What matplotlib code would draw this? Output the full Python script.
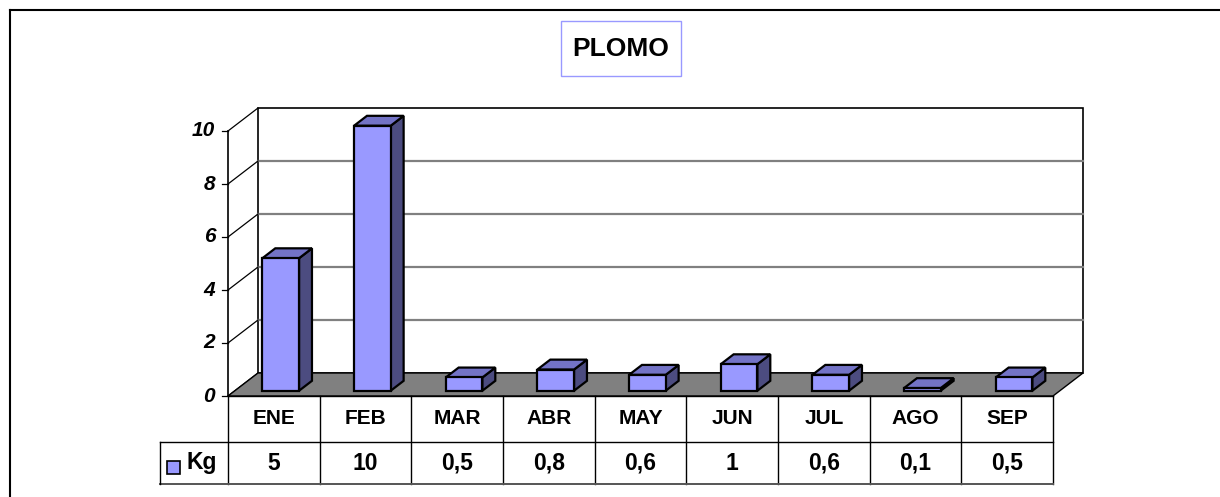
import matplotlib.pyplot as plt
from matplotlib.patches import Polygon, Rectangle
from matplotlib.lines import Line2D
from matplotlib.transforms import blended_transform_factory

# datos
meses = ['ENE', 'FEB', 'MAR', 'ABR', 'MAY', 'JUN', 'JUL', 'AGO', 'SEP']
kg = [5, 10, 0.5, 0.8, 0.6, 1, 0.6, 0.1, 0.5]
etiquetas = ['5', '10', '0,5', '0,8', '0,6', '1', '0,6', '0,1', '0,5']
serie = 'Kg'
titulo = 'PLOMO'
yticks = [0, 2, 4, 6, 8, 10]

plt.rcParams['font.family'] = ['Liberation Sans', 'DejaVu Sans']

W, H = 1220, 497
fig = plt.figure(figsize=(W / 100, H / 100), dpi=100)

def caja(x0, y0, x1, y1):
    # pixel box -> figure fraction [left, bottom, width, height]
    return [x0 / W, 1 - y1 / H, (x1 - x0) / W, (y1 - y0) / H]

def fy(ypx):
    return 1 - ypx / H

# front plane of the 3D chart
ax = fig.add_axes(caja(228, 131, 1053, 396))
n = len(meses)
ax.set_xlim(0, n)
ax.set_ylim(0, 10)
ax.axis('off')

# depth vector (data units) and bar placement in depth
DX, DY = 30 / (825 / n), 23 / 26.5
f0, f1 = 0.23, 0.66
ancho = 0.40

def P(x, y, f):
    return (x + f * DX, y + f * DY)

# back wall
ax.add_patch(Polygon([P(0, 0, 1), P(n, 0, 1), P(n, 10, 1), P(0, 10, 1)], closed=True,
                     facecolor='white', edgecolor='black', lw=1.2, clip_on=False, zorder=1))
for v in yticks[1:-1]:
    ax.add_line(Line2D(*zip(P(0, v, 1), P(n, v, 1)), color='#808080', lw=1.6, clip_on=False, zorder=1.5))

# left wall lines and ticks
for v in yticks:
    ax.add_line(Line2D(*zip(P(0, v, 0), P(0, v, 1)), color='black', lw=0.9, clip_on=False, zorder=2))
    ax.add_line(Line2D([-0.065, 0], [v, v], color='black', lw=0.9, clip_on=False, zorder=2))
    ax.text(-0.14, v, str(v), ha='right', va='center', fontsize=15, fontweight='bold',
            fontstyle='italic', clip_on=False)
ax.add_line(Line2D([0, 0], [0, 10], color='black', lw=1.2, clip_on=False, zorder=2))

# floor
ax.add_patch(Polygon([P(0, 0, 0), P(n, 0, 0), P(n, 0, 1), P(0, 0, 1)], closed=True,
                     facecolor='#808080', edgecolor='black', lw=1.0, clip_on=False, zorder=3))

# bars
for i, v in enumerate(kg):
    x0 = i + 0.5 - ancho / 2
    x1 = x0 + ancho
    frente = [P(x0, 0, f0), P(x1, 0, f0), P(x1, v, f0), P(x0, v, f0)]
    lado = [P(x1, 0, f0), P(x1, 0, f1), P(x1, v, f1), P(x1, v, f0)]
    techo = [P(x0, v, f0), P(x1, v, f0), P(x1, v, f1), P(x0, v, f1)]
    for pts, col in [(lado, '#4C4C80'), (techo, '#7373C6'), (frente, '#9999FF')]:
        ax.add_patch(Polygon(pts, closed=True, facecolor=col, edgecolor='black',
                             lw=1.6, joinstyle='miter', clip_on=False, zorder=4))

# data table
tr = blended_transform_factory(ax.transData, fig.transFigure)
y_a, y_b, y_c = fy(396), fy(442), fy(484)
x_izq = -68 / (825 / n)
for k in range(n + 1):
    fig.add_artist(Line2D([k, k], [y_a, y_c], color='black', lw=1.0, transform=tr))
fig.add_artist(Line2D([0, n], [y_a, y_a], color='black', lw=1.0, transform=tr))
fig.add_artist(Line2D([x_izq, n], [y_b, y_b], color='black', lw=1.0, transform=tr))
fig.add_artist(Line2D([x_izq, n], [y_c, y_c], color='#555555', lw=1.4, transform=tr))
fig.add_artist(Line2D([x_izq, x_izq], [y_b, y_c], color='black', lw=1.0, transform=tr))
for i, (m, e) in enumerate(zip(meses, etiquetas)):
    fig.text(i + 0.5, (y_a + y_b) / 2, m, ha='center', va='center', fontsize=15,
             fontweight='bold', transform=tr)
    fig.text(i + 0.5, (y_b + y_c) / 2, e, ha='center', va='center', fontsize=16.5,
             fontweight='bold', transform=tr)
fig.add_artist(Rectangle((167 / W, fy(474)), 13 / W, 13 / H, facecolor='#9999FF',
                         edgecolor='black', lw=1.2, transform=fig.transFigure))
fig.text(187 / W, (y_b + y_c) / 2, serie, ha='left', va='center', fontsize=16.5, fontweight='bold')

# title
fig.add_artist(Rectangle((561 / W, fy(76)), 120 / W, 55 / H, facecolor='white',
                         edgecolor='#9999FF', lw=1.0, transform=fig.transFigure))
fig.text(621 / W, fy(49), titulo, ha='center', va='center', fontsize=19, fontweight='bold')

# outer frame (top and left edges visible)
fig.add_artist(Line2D([10 / W, 1], [fy(10), fy(10)], color='black', lw=1.5))
fig.add_artist(Line2D([10 / W, 10 / W], [fy(10), 0], color='black', lw=1.5))

plt.savefig('out.png', dpi=100)
plt.close()
